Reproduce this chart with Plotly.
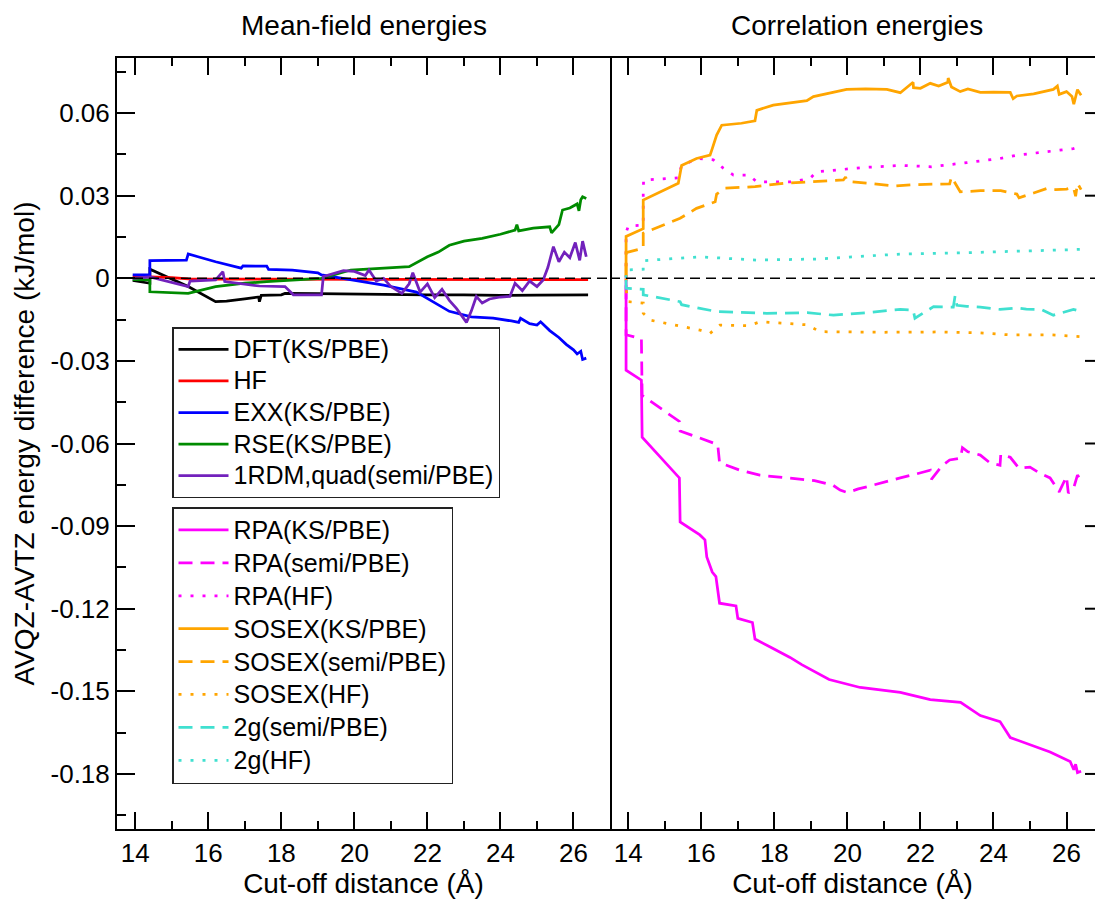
import plotly.graph_objects as go

# ---------------- data ----------------
# Left panel: mean-field energies
dft_x = [13.93, 14.4, 14.4, 15.45, 16.2, 16.5, 17.0, 17.38, 17.4, 17.45, 18.0, 18.1, 19.0, 20.0, 21.0, 22.0, 23.0, 24.0, 25.0, 26.0, 26.4]
dft_y = [-0.0008, -0.0018, 0.0033, -0.003, -0.0085, -0.0083, -0.0075, -0.0068, -0.0085, -0.0062, -0.006, -0.0055, -0.0056, -0.0058, -0.0059, -0.006, -0.006, -0.0062, -0.0061, -0.006, -0.006]

hf_x = [13.93, 14.4, 15.0, 15.45, 16.0, 17.0, 18.0, 20.0, 22.0, 24.0, 26.4]
hf_y = [0.0005, 0.0005, 0.0002, -0.0002, -0.0003, -0.0003, -0.0003, -0.0005, -0.0004, -0.0005, -0.0005]

exx_x = [13.93, 14.4, 14.4, 15.4, 15.45, 16.2, 16.9, 16.95, 17.6, 17.65, 18.3, 19.0, 19.1, 19.9, 20.8, 21.7, 22.2, 22.6, 23.2, 23.8, 24.3, 24.5, 24.55, 24.8, 25.0, 25.1, 25.35, 25.6, 25.8, 26.0, 26.1, 26.2, 26.25, 26.35]
exx_y = [0.0012, 0.0012, 0.0064, 0.0066, 0.0088, 0.006, 0.0037, 0.0045, 0.0044, 0.0032, 0.003, 0.002, 0.0012, -0.0006, -0.0025, -0.005, -0.009, -0.012, -0.014, -0.0145, -0.0155, -0.016, -0.0145, -0.0165, -0.017, -0.0158, -0.019, -0.0215, -0.024, -0.026, -0.0275, -0.0265, -0.0295, -0.029]

rse_x = [13.93, 14.4, 14.4, 15.45, 16.2, 17.0, 17.6, 18.5, 19.1, 19.9, 20.5, 21.5, 22.0, 22.3, 22.6, 23.0, 23.5, 24.0, 24.4, 24.45, 24.5, 24.9, 25.35, 25.4, 25.6, 25.7, 25.9, 26.1, 26.15, 26.2, 26.25, 26.35]
rse_y = [-0.0005, -0.0006, -0.0049, -0.0055, -0.003, -0.0018, -0.0012, -0.0005, 0.0, 0.003, 0.0035, 0.0042, 0.0078, 0.0095, 0.012, 0.0135, 0.0145, 0.016, 0.0175, 0.0195, 0.0172, 0.0182, 0.0187, 0.0165, 0.0195, 0.0248, 0.0255, 0.027, 0.0245, 0.0285, 0.0296, 0.029]

rdm_x = [13.93, 14.4, 15.45, 15.5, 16.2, 16.4, 16.45, 17.4, 18.1, 18.33, 19.1, 19.15, 19.7, 20.0, 20.3, 20.4, 20.6, 20.8, 21.0, 21.3, 21.5, 21.6, 21.8, 22.0, 22.2, 22.4, 22.6, 22.8, 23.07, 23.2, 23.34, 23.5, 23.7, 24.0, 24.26, 24.4, 24.6, 24.8, 25.0, 25.17, 25.3, 25.45, 25.6, 25.75, 25.9, 26.05, 26.17, 26.25, 26.35]
rdm_y = [0.0, 0.0005, -0.003, -0.001, -0.0006, 0.0024, -0.0012, -0.0028, -0.003, -0.006, -0.006, 0.0006, 0.0028, 0.0025, 0.001, 0.003, -0.001, 0.0, -0.003, -0.0055, -0.002, 0.002, -0.005, -0.002, -0.007, -0.004, -0.008, -0.011, -0.016, -0.012, -0.0066, -0.009, -0.0075, -0.0068, -0.0066, -0.0018, -0.0045, -0.001, -0.003, -0.0006, 0.004, 0.0115, 0.006, 0.0095, 0.0075, 0.013, 0.0065, 0.0135, 0.0078]

# Right panel: correlation energies
rpa_ks_x = [13.94, 13.94, 14.36, 14.38, 15.40, 15.42, 15.96, 16.1, 16.15, 16.3, 16.4, 16.5, 16.95, 17.0, 17.4, 17.47, 17.9, 18.43, 18.75, 19.1, 19.5, 20.35, 21.45, 22.27, 23.1, 23.64, 24.18, 24.46, 25.0, 25.55, 26.1, 26.2, 26.25, 26.3, 26.4]
rpa_ks_y = [0.0, -0.0334, -0.037, -0.0577, -0.0725, -0.0885, -0.0932, -0.095, -0.1012, -0.1067, -0.1083, -0.118, -0.119, -0.1235, -0.125, -0.131, -0.134, -0.1377, -0.1403, -0.1428, -0.1457, -0.1486, -0.1504, -0.153, -0.154, -0.1588, -0.161, -0.1668, -0.1693, -0.172, -0.1755, -0.1785, -0.1765, -0.1795, -0.179]

rpa_semi_x = [13.94, 13.94, 14.36, 14.38, 15.40, 15.42, 15.96, 16.45, 16.5, 17.06, 17.6, 18.43, 19.1, 19.6, 19.8, 20.0, 20.3, 20.6, 21.0, 21.45, 21.9, 22.27, 22.3, 22.6, 22.8, 23.1, 23.15, 23.3, 23.64, 23.9, 24.18, 24.2, 24.46, 24.7, 25.0, 25.3, 25.55, 25.8, 26.0, 26.05, 26.2, 26.3, 26.4]
rpa_semi_y = [-0.0025, -0.0205, -0.022, -0.0425, -0.052, -0.0555, -0.058, -0.0604, -0.067, -0.0697, -0.0715, -0.0725, -0.0735, -0.0751, -0.0769, -0.0778, -0.0765, -0.0755, -0.074, -0.0725, -0.071, -0.0697, -0.073, -0.068, -0.066, -0.0653, -0.0615, -0.063, -0.0642, -0.067, -0.0679, -0.064, -0.065, -0.069, -0.0686, -0.071, -0.0725, -0.0776, -0.072, -0.078, -0.076, -0.0715, -0.0733]

rpa_hf_x = [13.94, 13.94, 14.0, 14.41, 14.41, 14.42, 15.37, 15.46, 15.9, 16.33, 16.6, 16.88, 17.3, 17.52, 18.5, 18.98, 19.16, 20.53, 21.5, 22.3, 23.27, 24.18, 24.64, 25.46, 26.19, 26.4]
rpa_hf_y = [0.0, 0.0165, 0.019, 0.0193, 0.0314, 0.0357, 0.0365, 0.041, 0.0435, 0.043, 0.040, 0.0375, 0.0375, 0.035, 0.035, 0.0363, 0.0387, 0.0403, 0.041, 0.0405, 0.042, 0.0435, 0.0447, 0.0459, 0.0471, 0.048]

sosex_ks_x = [13.94, 13.94, 14.41, 14.41, 15.37, 15.46, 15.87, 16.24, 16.3, 16.42, 16.56, 17.1, 17.47, 17.52, 17.97, 18.89, 19.07, 19.53, 19.98, 20.5, 21.08, 21.45, 21.8, 21.81, 22.0, 22.27, 22.5, 22.75, 22.76, 22.85, 23.09, 23.3, 23.64, 24.0, 24.46, 24.54, 24.64, 25.1, 25.64, 25.75, 25.8, 26.0, 26.15, 26.2, 26.3, 26.4]
sosex_ks_y = [0.0006, 0.0152, 0.018, 0.0284, 0.0345, 0.041, 0.0435, 0.0447, 0.0471, 0.052, 0.0556, 0.0563, 0.0572, 0.061, 0.0629, 0.0645, 0.066, 0.0672, 0.0686, 0.0688, 0.0686, 0.0674, 0.0712, 0.0692, 0.069, 0.0708, 0.0698, 0.0712, 0.0727, 0.0695, 0.0678, 0.0688, 0.0675, 0.0676, 0.0675, 0.0652, 0.0662, 0.067, 0.0686, 0.0698, 0.0668, 0.0678, 0.066, 0.0632, 0.0685, 0.0665]

sosex_semi_x = [13.94, 13.94, 14.41, 14.41, 15.42, 15.87, 16.38, 16.42, 16.65, 17.47, 18.25, 19.0, 19.89, 19.95, 20.0, 20.6, 21.26, 21.8, 22.27, 22.8, 22.85, 23.09, 23.64, 24.2, 24.64, 24.7, 25.1, 25.46, 25.7, 26.0, 26.19, 26.25, 26.3, 26.4]
sosex_semi_y = [0.0006, 0.0093, 0.0109, 0.0164, 0.0218, 0.0254, 0.0278, 0.0306, 0.0327, 0.0333, 0.0345, 0.035, 0.0357, 0.0368, 0.0352, 0.0345, 0.0335, 0.034, 0.0342, 0.0343, 0.0368, 0.0314, 0.0318, 0.0318, 0.0306, 0.0292, 0.031, 0.0326, 0.0322, 0.0324, 0.033, 0.0298, 0.0345, 0.0322]

sosex_hf_x = [13.94, 13.94, 14.0, 14.41, 14.41, 14.6, 15.96, 16.24, 16.51, 17.3, 17.61, 18.9, 19.25, 21.0, 22.5, 23.64, 24.5, 25.5, 26.19, 26.4]
sosex_hf_y = [0.0, -0.004, -0.0085, -0.009, -0.0127, -0.0152, -0.0188, -0.02, -0.017, -0.0172, -0.0158, -0.0169, -0.0194, -0.0196, -0.0195, -0.0198, -0.0206, -0.0205, -0.021, -0.0212]

g2_semi_x = [13.94, 13.94, 14.41, 14.41, 15.42, 15.46, 16.42, 17.79, 18.9, 19.62, 20.53, 21.45, 21.8, 21.85, 22.36, 22.9, 22.95, 23.0, 23.27, 23.64, 24.18, 24.64, 24.9, 25.3, 25.64, 26.0, 26.19, 26.4]
g2_semi_y = [-0.0006, -0.0036, -0.004, -0.006, -0.0085, -0.0096, -0.0121, -0.0127, -0.0125, -0.0134, -0.0125, -0.0113, -0.0115, -0.0145, -0.0103, -0.0105, -0.0063, -0.0098, -0.0102, -0.0105, -0.0113, -0.0108, -0.0112, -0.0113, -0.0134, -0.012, -0.0113, -0.012]

g2_hf_x = [13.94, 13.94, 14.41, 14.41, 15.96, 17.52, 19.16, 21.45, 23.27, 25.0, 26.4]
g2_hf_y = [0.0, 0.003, 0.0033, 0.0064, 0.0078, 0.0066, 0.007, 0.0088, 0.0093, 0.0099, 0.0105]

x_tickvals = [14, 16, 18, 20, 22, 24, 26]
x_minor = [13, 15, 17, 19, 21, 23, 25, 27]
y_tickvals = [0.06, 0.03, 0, -0.03, -0.06, -0.09, -0.12, -0.15, -0.18]
y_ticktext = ["0.06", "0.03", "0", "-0.03", "-0.06", "-0.09", "-0.12", "-0.15", "-0.18"]
y_minor = [0.075, 0.045, 0.015, -0.015, -0.045, -0.075, -0.105, -0.135, -0.165, -0.195]

# ---------------- styling ----------------
FONT = "Liberation Sans, Arial, Helvetica, sans-serif"
C_BLACK, C_RED, C_BLUE, C_GREEN, C_VIOLET = "#000000", "#ff0000", "#0000ff", "#008b00", "#7221bc"
C_MAG, C_ORANGE, C_TURQ = "#ff00ff", "#ffa500", "#40e0d0"
DASH = "14px,8px"
DOT = "3px,9px"
LW = 2.75
LEG_TXT = 25

def leg(name):
    return '<span style="font-size:%dpx">%s</span>' % (LEG_TXT, name)

fig = go.Figure()

left = [
    ("DFT(KS/PBE)", dft_x, dft_y, C_BLACK, "solid"),
    ("HF", hf_x, hf_y, C_RED, "solid"),
    ("EXX(KS/PBE)", exx_x, exx_y, C_BLUE, "solid"),
    ("RSE(KS/PBE)", rse_x, rse_y, C_GREEN, "solid"),
    ("1RDM,quad(semi/PBE)", rdm_x, rdm_y, C_VIOLET, "solid"),
]
for name, xs, ys, col, dash in left:
    assert len(xs) == len(ys), name
    fig.add_trace(go.Scatter(x=xs, y=ys, mode="lines", name=leg(name),
                             line=dict(color=col, width=LW, dash=dash),
                             xaxis="x", yaxis="y", legend="legend"))

right = [
    ("RPA(KS/PBE)", rpa_ks_x, rpa_ks_y, C_MAG, "solid"),
    ("RPA(semi/PBE)", rpa_semi_x, rpa_semi_y, C_MAG, DASH),
    ("RPA(HF)", rpa_hf_x, rpa_hf_y, C_MAG, DOT),
    ("SOSEX(KS/PBE)", sosex_ks_x, sosex_ks_y, C_ORANGE, "solid"),
    ("SOSEX(semi/PBE)", sosex_semi_x, sosex_semi_y, C_ORANGE, DASH),
    ("SOSEX(HF)", sosex_hf_x, sosex_hf_y, C_ORANGE, DOT),
    ("2g(semi/PBE)", g2_semi_x, g2_semi_y, C_TURQ, DASH),
    ("2g(HF)", g2_hf_x, g2_hf_y, C_TURQ, DOT),
]
for name, xs, ys, col, dash in right:
    assert len(xs) == len(ys), name
    fig.add_trace(go.Scatter(x=xs, y=ys, mode="lines", name=leg(name),
                             line=dict(color=col, width=LW, dash=dash),
                             xaxis="x2", yaxis="y2", legend="legend2"))

# zero reference lines
for xr, yr in (("x domain", "y"), ("x2 domain", "y2")):
    fig.add_shape(type="line", xref=xr, yref=yr, x0=0, x1=1, y0=0, y1=0,
                  line=dict(color="black", width=1.5, dash="10px,6px"))

W, H = 1095, 899
ML, MR, MT, MB = 117, 0, 58, 70
pw = W - ML - MR
ph = H - MT - MB
split = (610 - ML) / pw
right_w = W - 610

# right-hand tick stubs (the right frame of the reference lies just beyond the picture)
for v in y_tickvals:
    if v == 0:
        continue
    fig.add_shape(type="line", xref="x2 domain", yref="y2", x0=1 - 10 / right_w, x1=1,
                  y0=v, y1=v, line=dict(color="black", width=2))

def px_x(p):
    return (p - ML) / pw

def px_y(p):
    return (H - MB - p) / ph

xcommon = dict(
    tickmode="array", tickvals=x_tickvals, ticks="inside", ticklen=17, tickwidth=2,
    tickcolor="black", showline=True, linewidth=2, linecolor="black", mirror="ticks",
    showgrid=False, zeroline=False,
    tickfont=dict(family=FONT, size=26, color="black"),
    minor=dict(tickmode="array", tickvals=x_minor, ticks="inside", ticklen=8,
               tickwidth=2, tickcolor="black", showgrid=False),
    title=dict(text="Cut-off distance (Å)", font=dict(family=FONT, size=28, color="black"),
               standoff=6),
)

ycommon = dict(range=[-0.2, 0.08], showgrid=False, zeroline=False)

fig.update_layout(
    width=W, height=H,
    margin=dict(l=ML, r=MR, t=MT, b=MB, pad=0),
    paper_bgcolor="white", plot_bgcolor="white",
    font=dict(family=FONT, color="black"),
    xaxis=dict(domain=[0, split], range=[13.5, 27], anchor="y", **xcommon),
    xaxis2=dict(domain=[split, 1], range=[13.5, 13.5 + right_w / 36.52], anchor="y2", **xcommon),
    yaxis=dict(domain=[0, 1], anchor="x", tickmode="array", tickvals=y_tickvals,
               ticktext=y_ticktext, ticks="inside", ticklen=18, tickwidth=2, tickcolor="black",
               showline=True, linewidth=2, linecolor="black", mirror=True,
               tickfont=dict(family=FONT, size=26, color="black"),
               minor=dict(tickmode="array", tickvals=y_minor, ticks="inside", ticklen=9,
                          tickwidth=2, tickcolor="black", showgrid=False),
               title=dict(text="AVQZ-AVTZ energy difference (kJ/mol)",
                          font=dict(family=FONT, size=28, color="black"), standoff=8),
               **ycommon),
    yaxis2=dict(domain=[0, 1], anchor="x2", matches="y", showticklabels=False,
                ticks="", showline=False, **ycommon),
    legend=dict(x=px_x(172), y=px_y(327), xanchor="left", yanchor="top",
                bgcolor="white", bordercolor="#222222", borderwidth=1.5, itemwidth=50,
                font=dict(family=FONT, size=22, color="black")),
    legend2=dict(x=px_x(172), y=px_y(507), xanchor="left", yanchor="top",
                 bgcolor="white", bordercolor="#222222", borderwidth=1.5, itemwidth=50,
                 font=dict(family=FONT, size=23, color="black")),
    showlegend=True,
)

# panel titles
fig.add_annotation(text="Mean-field energies", xref="paper", yref="paper",
                   x=px_x(363.5), y=px_y(26), xanchor="center", yanchor="middle",
                   showarrow=False, font=dict(family=FONT, size=28, color="black"))
fig.add_annotation(text="Correlation energies", xref="paper", yref="paper",
                   x=px_x(856.5), y=px_y(26), xanchor="center", yanchor="middle",
                   showarrow=False, font=dict(family=FONT, size=28, color="black"))

fig.write_html("out.html")
